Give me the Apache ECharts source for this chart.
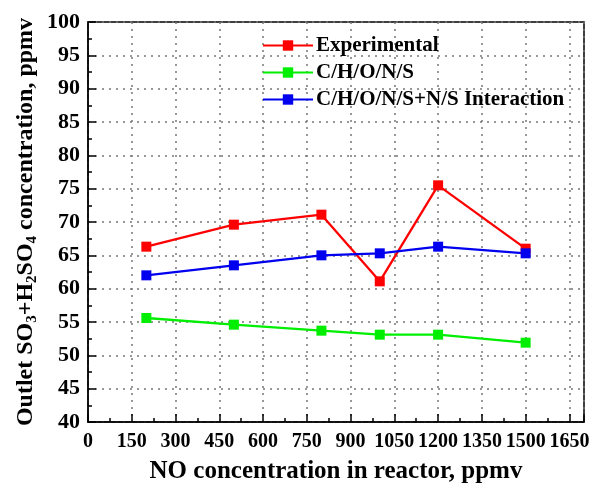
<!DOCTYPE html>
<html><head><meta charset="utf-8">
<script src="https://cdn.jsdelivr.net/npm/echarts@6/dist/echarts.min.js"></script>
<style>html,body{margin:0;padding:0;background:#fff}#c{width:598px;height:489px}</style>
</head><body><div id="c"></div>
<script>
const noConc = [200, 500, 800, 1000, 1200, 1500];
const experimental = [66.3, 69.6, 71.1, 61.1, 75.5, 66.0];
const chons = [55.6, 54.6, 53.7, 53.1, 53.1, 51.9];
const chonsInteraction = [62.0, 63.5, 65.0, 65.3, 66.3, 65.3];
const seriesNames = ['Experimental', 'C/H/O/N/S', 'C/H/O/N/S+N/S Interaction'];
const seriesColors = ['#ff0000', '#00ee00', '#0000ee'];

const font = 'Liberation Serif, Times New Roman, serif';
const chart = echarts.init(document.getElementById('c'));
function mk(name, vals, color) {
  return {
    name: name, type: 'line',
    data: noConc.map((x, i) => [x, vals[i]]),
    symbol: 'rect', symbolSize: 10,
    lineStyle: { color: color, width: 2.3 },
    itemStyle: { color: color },
    emphasis: { disabled: true }
  };
}
const splitStyle = { show: true, lineStyle: { color: '#777', type: [2, 5], width: 1.5 } };
chart.setOption({
  animation: false,
  backgroundColor: '#fff',
  grid: { left: 88, right: 14, top: 22, bottom: 67, outerBoundsMode: 'none', containLabel: false, show: true, borderColor: '#000', borderWidth: 1.5, backgroundColor: 'transparent' },
  legend: {
    orient: 'vertical', left: 257, top: 30, itemWidth: 50, itemHeight: 13, itemGap: 6,
    data: seriesNames,
    textStyle: { fontFamily: font, fontWeight: 'bold', fontSize: 21, color: '#000', padding: [0,0,0,-2] }
  },
  xAxis: {
    type: 'value', min: 0, max: 1700, interval: 150,
    name: 'NO concentration in reactor, ppmv', nameLocation: 'middle', nameGap: 37,
    nameTextStyle: { fontFamily: font, fontWeight: 'bold', fontSize: 25, color: '#000' },
    axisLine: { show: true, onZero: false, lineStyle: { color: '#000', width: 1.5 } },
    axisTick: { show: true, inside: true, length: 8, lineStyle: { color: '#000', width: 1.5 } },
    minorTick: { show: true, splitNumber: 2, length: 4, lineStyle: { color: '#000', width: 1.5 } },
    axisLabel: { showMaxLabel: false, margin: 10, fontFamily: font, fontWeight: 'bold', fontSize: 20, color: '#000', formatter: v => String(v) },
    splitLine: splitStyle
  },
  yAxis: {
    type: 'value', min: 40, max: 100, interval: 5,
    name: '{n|Outlet SO}{s|3}{n|+H}{s|2}{n|SO}{s|4}{n| concentration, ppmv}',
    nameLocation: 'middle', nameGap: 48, nameRotate: 90, nameMoveOverlap: false,
    nameTextStyle: {
      fontFamily: font, fontWeight: 'bold', fontSize: 24, color: '#000',
      rich: {
        n: { fontFamily: font, fontWeight: 'bold', fontSize: 24, color: '#000', lineHeight: 28, verticalAlign: 'middle' },
        s: { fontFamily: font, fontWeight: 'bold', fontSize: 15, color: '#000', lineHeight: 12, verticalAlign: 'bottom' }
      }
    },
    axisLine: { show: true, onZero: false, lineStyle: { color: '#000', width: 1.5 } },
    axisTick: { show: true, inside: true, length: 8, lineStyle: { color: '#000', width: 1.5 } },
    minorTick: { show: true, splitNumber: 2, length: 4, lineStyle: { color: '#000', width: 1.5 } },
    axisLabel: { margin: 8, fontFamily: font, fontWeight: 'bold', fontSize: 22, color: '#000' },
    splitLine: splitStyle
  },
  series: [
    mk(seriesNames[0], experimental, seriesColors[0]),
    mk(seriesNames[1], chons, seriesColors[1]),
    mk(seriesNames[2], chonsInteraction, seriesColors[2])
  ]
});
</script></body></html>
